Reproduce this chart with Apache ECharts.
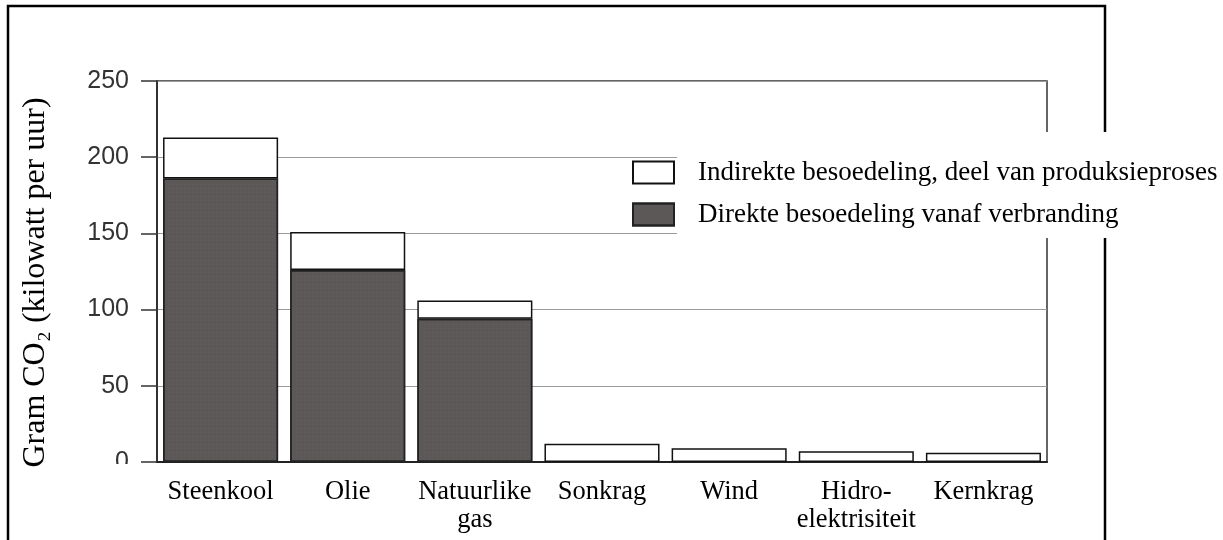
<!DOCTYPE html>
<html>
<head>
<meta charset="utf-8">
<script src="https://cdn.jsdelivr.net/npm/echarts@6/dist/echarts.min.js"></script>
<style>
  html, body { margin: 0; padding: 0; background: #fff; }
  #chart { width: 1223px; height: 540px; }
</style>
</head>
<body>
<div id="chart"></div>
<script>
// data
const categories = ['Steenkool', 'Olie', 'Natuurlike\ngas', 'Sonkrag', 'Wind', 'Hidro-\nelektrisiteit', 'Kernkrag']
const direct = [186, 126, 94, 0, 0, 0, 0]
const indirect = [27, 25, 12, 12, 9, 7, 6]
const yTicks = [0, 50, 100, 150, 200, 250]

const serif = 'Liberation Serif, Times New Roman, serif'
const sans = 'Liberation Sans, Arial, sans-serif'

const chart = echarts.init(document.getElementById('chart'))
chart.setOption({
  animation: false,
  grid: {
    left: 157, right: 176, top: 81, bottom: 78,
    show: true, borderColor: '#333', borderWidth: 1.5
  },
  legend: {
    orient: 'vertical',
    left: 632,
    top: 159,
    z: 5,
    icon: 'rect',
    itemWidth: 41,
    itemHeight: 22,
    itemGap: 15,
    padding: 0,
    textStyle: { fontFamily: serif, fontSize: 27, color: '#000', lineHeight: 27, padding: [0, 0, 0, 19] },
    data: ['Indirekte besoedeling, deel van produksieproses', 'Direkte besoedeling vanaf verbranding']
  },
  xAxis: {
    type: 'category',
    data: categories,
    axisTick: { show: false },
    axisLine: { lineStyle: { color: '#222', width: 2 } },
    axisLabel: { fontFamily: serif, fontSize: 26.5, color: '#000', lineHeight: 28, margin: 16, interval: 0 }
  },
  yAxis: {
    type: 'value',
    min: yTicks[0],
    max: yTicks[yTicks.length - 1],
    interval: 50,
    name: 'Gram CO\u2082 (kilowatt per uur)',
    nameLocation: 'middle',
    nameRotate: 90,
    nameGap: 105,
    nameTextStyle: { fontFamily: serif, fontSize: 32, color: '#000', padding: [0, 22, 0, 0] },
    axisLine: { show: true, lineStyle: { color: '#222', width: 1.5 } },
    axisTick: { show: true, length: 16, lineStyle: { color: '#333', width: 1.5 } },
    axisLabel: { fontFamily: sans, fontSize: 25, color: '#333', margin: 28 },
    splitLine: { lineStyle: { color: '#9a9a9a', width: 1 } }
  },
  series: [
    {
      name: 'Direkte besoedeling vanaf verbranding',
      type: 'bar',
      stack: 'co2',
      data: direct,
      barCategoryGap: '9.5%',
      itemStyle: {
        color: '#5d5858', borderColor: '#222', borderWidth: 1.5,
        // speckled print texture
        decal: { symbol: 'rect', symbolSize: 0.6, color: 'rgba(255,255,255,0.16)', dashArrayX: [1, 3], dashArrayY: [1, 3], rotation: 0 }
      }
    },
    {
      name: 'Indirekte besoedeling, deel van produksieproses',
      type: 'bar',
      stack: 'co2',
      data: indirect,
      itemStyle: { color: '#fff', borderColor: '#111', borderWidth: 1.5 }
    }
  ],
  graphic: [
    // outer frame
    { type: 'rect', z: 1, shape: { x: 8, y: 6, width: 1097, height: 545 }, style: { fill: 'none', stroke: '#000', lineWidth: 2.5 } },
    // white patch behind legend text
    { type: 'rect', z: 4, shape: { x: 677, y: 132, width: 546, height: 106 }, style: { fill: '#fff' } },
    // white band under the axis cutting the zero label
    { type: 'rect', z: 4, shape: { x: 70, y: 464, width: 475, height: 10 }, style: { fill: '#fff' } }
  ]
})
</script>
</body>
</html>
